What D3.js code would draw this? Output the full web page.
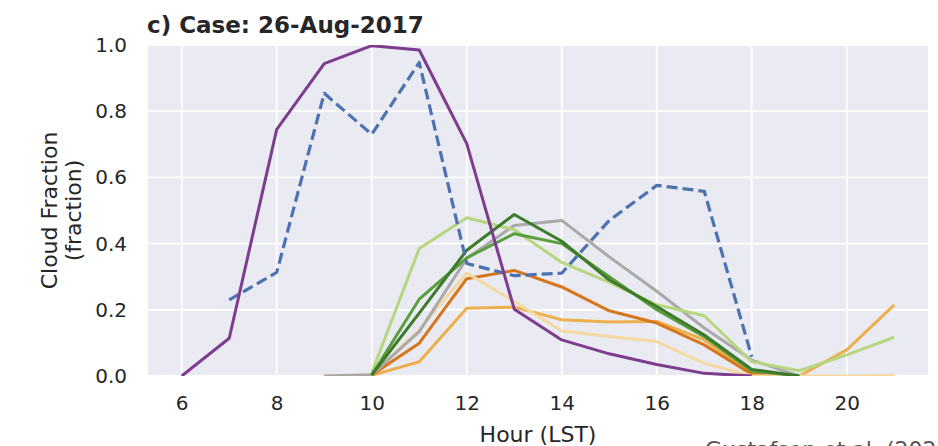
<!DOCTYPE html>
<html>
<head>
<meta charset="utf-8">
<script src="https://cdn.jsdelivr.net/npm/d3@7"></script>
<style>
  body { margin: 0; background: #fff; }
  svg { display: block; font-family: "DejaVu Sans", sans-serif; }
</style>
</head>
<body>
<div id="chart"></div>
<script>
const width = 938
const height = 446
const margin = {top: 45, right: 10, bottom: 70, left: 148}

// Hours for each series (LST)
const obsHours = [7, 8, 9, 10, 11, 12, 13, 14, 15, 16, 17, 18]
const purpleHours = [6, 7, 8, 9, 10, 11, 12, 13, 14, 15, 16, 17, 18]
const grayHours = [9, 10, 11, 12, 13, 14, 15, 16, 17, 18, 19]
const modelHours = [10, 11, 12, 13, 14, 15, 16, 17, 18, 19]
const longHours = [9, 10, 11, 12, 13, 14, 15, 16, 17, 18, 19, 20, 21]
const lightGreenHours = [10, 11, 12, 13, 14, 15, 16, 17, 18, 19, 20, 21]

// Cloud fraction values
const obsDashed = [0.23, 0.313, 0.854, 0.730, 0.947, 0.34, 0.303, 0.311, 0.47, 0.576, 0.558, 0.058]
const purpleValues = [0, 0.114, 0.745, 0.944, 0.998, 0.985, 0.702, 0.202, 0.109, 0.067, 0.035, 0.008, 0]
const peachValues = [0, 0.004, 0.14, 0.311, 0.225, 0.136, 0.119, 0.104, 0.038, 0, 0, 0, 0.002]
const midOrangeValues = [0, 0.002, 0.043, 0.205, 0.208, 0.17, 0.163, 0.165, 0.109, 0.008, 0, 0.079, 0.215]
const darkOrangeValues = [0.003, 0.099, 0.294, 0.319, 0.269, 0.197, 0.16, 0.094, 0.005, 0]
const grayValues = [0, 0.004, 0.134, 0.355, 0.455, 0.470, 0.36, 0.256, 0.145, 0.048, 0]
const lightGreenValues = [0.01, 0.385, 0.478, 0.442, 0.343, 0.283, 0.215, 0.182, 0.043, 0.016, 0.064, 0.117]
const midGreenValues = [0.003, 0.232, 0.357, 0.43, 0.40, 0.30, 0.20, 0.119, 0.015, 0]
const darkGreenValues = [0.003, 0.19, 0.38, 0.488, 0.407, 0.29, 0.21, 0.124, 0.02, 0]

const xTicks = [6, 8, 10, 12, 14, 16, 18, 20]
const yTicks = [0, 0.2, 0.4, 0.6, 0.8, 1.0]

// Draw order: first entry is at the bottom.
const series = [
  {hours: longHours, values: midOrangeValues, colour: "#EBAF4E", dashed: false},
  {hours: modelHours, values: darkOrangeValues, colour: "#D6771D", dashed: false},
  {hours: longHours, values: peachValues, colour: "#F6D8A3", dashed: false},
  {hours: grayHours, values: grayValues, colour: "#A9A9A9", dashed: false},
  {hours: lightGreenHours, values: lightGreenValues, colour: "#B6D67F", dashed: false},
  {hours: modelHours, values: midGreenValues, colour: "#599E3C", dashed: false},
  {hours: modelHours, values: darkGreenValues, colour: "#3D7A2B", dashed: false},
  {hours: obsHours, values: obsDashed, colour: "#4C72B0", dashed: true},
  {hours: purpleHours, values: purpleValues, colour: "#7D3C8D", dashed: false}
]

const plotW = width - margin.left - margin.right
const plotH = height - margin.top - margin.bottom

const svg = d3.select("#chart").append("svg")
  .attr("width", width)
  .attr("height", height)

const g = svg.append("g")
  .attr("transform", "translate(" + margin.left + "," + margin.top + ")")

const xScale = d3.scaleLinear().domain([5.29, 21.71]).range([0, plotW])
const yScale = d3.scaleLinear().domain([0, 1]).range([plotH, 0])

// Background and grid
g.append("rect")
  .attr("width", plotW)
  .attr("height", plotH)
  .attr("fill", "#EAEAF2")

g.selectAll(".vgrid").data(xTicks).enter().append("line")
  .attr("x1", d => xScale(d)).attr("x2", d => xScale(d))
  .attr("y1", 0).attr("y2", plotH)
  .attr("stroke", "#fff").attr("stroke-width", 1.8)

g.selectAll(".hgrid").data(yTicks).enter().append("line")
  .attr("y1", d => yScale(d)).attr("y2", d => yScale(d))
  .attr("x1", 0).attr("x2", plotW)
  .attr("stroke", "#fff").attr("stroke-width", 1.8)

g.append("clipPath").attr("id", "clip")
  .append("rect").attr("width", plotW).attr("height", plotH)

// Lines
const lineGen = d3.line()
  .x(d => xScale(d[0]))
  .y(d => yScale(d[1]))

const lines = g.append("g").attr("clip-path", "url(#clip)")
series.forEach(s => {
  lines.append("path")
    .datum(s.hours.map((h, i) => [h, s.values[i]]))
    .attr("d", lineGen)
    .attr("fill", "none")
    .attr("stroke", s.colour)
    .attr("stroke-width", s.dashed ? 3.2 : 3)
    .attr("stroke-linejoin", "round")
    .attr("stroke-dasharray", s.dashed ? "11,5" : null)
})

// Axes
const xAxis = g.append("g")
  .attr("transform", "translate(0," + plotH + ")")
  .call(d3.axisBottom(xScale).tickValues(xTicks).tickSize(0).tickPadding(20).tickFormat(d3.format("d")))
const yAxis = g.append("g")
  .call(d3.axisLeft(yScale).tickValues(yTicks).tickSize(0).tickPadding(21).tickFormat(d3.format(".1f")))

;[xAxis, yAxis].forEach(a => {
  a.select(".domain").remove()
  a.selectAll("text")
    .attr("fill", "#262626")
    .style("font-family", "DejaVu Sans")
    .style("font-size", "20px")
})

// Titles and labels
svg.append("text")
  .attr("x", 147).attr("y", 33)
  .attr("fill", "#262626")
  .style("font-size", "23px").style("font-weight", "bold")
  .text("c) Case: 26-Aug-2017")

svg.append("text")
  .attr("x", margin.left + plotW / 2).attr("y", 442)
  .attr("text-anchor", "middle")
  .attr("fill", "#262626")
  .style("font-size", "22px")
  .text("Hour (LST)")

const yLabel = svg.append("text")
  .attr("transform", "translate(57," + (margin.top + plotH / 2) + ") rotate(-90)")
  .attr("text-anchor", "middle")
  .attr("fill", "#262626")
  .style("font-size", "22px")
yLabel.append("tspan").attr("x", 0).attr("y", 0).text("Cloud Fraction")
yLabel.append("tspan").attr("x", 0).attr("y", 24).text("(fraction)")

svg.append("text")
  .attr("x", 705).attr("y", 457)
  .attr("fill", "#555")
  .style("font-size", "22px")
  .text("Gustafson et al. (2020)")
</script>
</body>
</html>
